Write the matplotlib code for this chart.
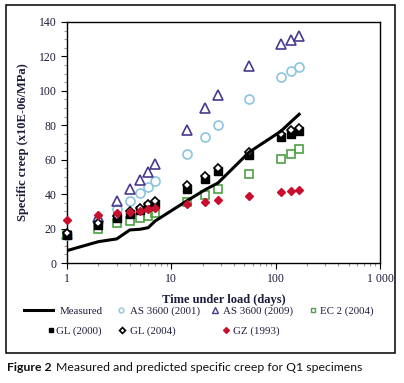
#!/usr/bin/env python3
# -*- coding: utf-8 -*-

import matplotlib
matplotlib.use('Agg')
import matplotlib.pyplot as plt
from matplotlib.patches import Rectangle
from matplotlib.lines import Line2D
from matplotlib.ticker import MultipleLocator, FixedLocator, FixedFormatter

# время под нагрузкой (сутки)
days = [1, 2, 3, 4, 5, 6, 7, 14, 21, 28, 56, 112, 140, 168]

measured = [7.2, 12.4, 14.0, 19.2, 19.6, 20.5, 24.4, 36.0, 42.5, 46.5, 64.5, 76.5, 82.0, 86.4]
as2001 = [16.5, 24.5, 31.2, 36.2, 40.5, 44.2, 47.5, 63.2, 73.3, 80.0, 95.3, 108.0, 111.8, 114.0]
as2009 = [17.0, 26.5, 36.0, 43.0, 48.0, 53.0, 57.7, 77.5, 90.0, 97.7, 114.5, 127.0, 129.6, 132.0]
ec2 = [16.0, 19.6, 23.0, 24.2, 26.0, 27.5, 28.9, 35.5, 39.3, 42.8, 51.6, 60.6, 63.5, 66.0]
gl2000 = [16.5, 22.0, 26.0, 28.5, 31.0, 33.0, 34.3, 43.0, 48.8, 53.7, 62.8, 73.0, 74.8, 76.7]
gl2004 = [17.5, 23.4, 27.2, 30.0, 32.2, 34.5, 36.0, 45.3, 50.5, 55.0, 64.5, 75.0, 77.0, 78.5]
gz1993 = [25.0, 27.9, 28.9, 29.8, 30.4, 31.2, 31.8, 34.1, 35.5, 36.6, 39.0, 41.3, 42.0, 42.6]

x_ticks = [1, 10, 100, 1000]
x_tick_labels = ['1', '10', '100', '1 000']

W, H = 404, 383
SERIF = 'Liberation Serif'
LEG_FS = 7.8
TXT = '#1c1c3c'
C_AS01 = '#8cc4df'
C_AS09 = '#4a3a8e'
C_EC2 = '#4ea043'
C_GZ = '#c8102e'

fig = plt.figure(figsize=(W / 100, H / 100), dpi=100)

# рамка вокруг рисунка
fig.patches.append(Rectangle((6 / W, 1 - 352.5 / H), 389 / W, 348 / H,
                             transform=fig.transFigure, fill=False,
                             edgecolor='black', linewidth=1.1))

ax = fig.add_axes([67 / W, 1 - 263 / H, 313 / W, 241 / H])

ax.plot(days, measured, '-', color='black', linewidth=2.2, zorder=5)
ax.plot(days, as2001, 'o', mfc='none', mec=C_AS01, mew=1.2, ms=6.5, zorder=3, clip_on=False)
ax.plot(days, as2009, '^', mfc='none', mec=C_AS09, mew=1.2, ms=6.5, zorder=3, clip_on=False)
ax.plot(days, ec2, 's', mfc='none', mec=C_EC2, mew=1.2, ms=6.0, zorder=3, clip_on=False)
ax.plot(days, gl2000, 's', mfc='black', mec='black', ms=5.5, zorder=4, clip_on=False)
ax.plot(days, gl2004, 'D', mfc='white', mec='black', mew=1.2, ms=4.0, zorder=4, clip_on=False)
ax.plot(days, gz1993, 'D', mfc=C_GZ, mec=C_GZ, ms=4.5, zorder=6, clip_on=False)

ax.set_xscale('log')
ax.set_xlim(1, 1000)
ax.set_ylim(0, 140)
ax.xaxis.set_major_locator(FixedLocator(x_ticks))
ax.xaxis.set_major_formatter(FixedFormatter(x_tick_labels))
ax.yaxis.set_major_locator(MultipleLocator(20))
ax.yaxis.set_minor_locator(MultipleLocator(5))
ax.tick_params(which='both', direction='out', colors='black', labelcolor=TXT,
               labelsize=8.5, width=0.8)
ax.tick_params(which='major', length=4)
ax.tick_params(which='minor', length=2.5, color='#999999')
for lab in ax.get_xticklabels() + ax.get_yticklabels():
    lab.set_family(SERIF)
for sp in ax.spines.values():
    sp.set_linewidth(1.0)

ax.set_xlabel('Time under load (days)', family=SERIF, fontsize=9,
              fontweight='bold', color=TXT, labelpad=6)
ax.set_ylabel('Specific creep (x10E-06/MPa)', family=SERIF, fontsize=9,
              fontweight='bold', color=TXT, labelpad=7)


def add_entry(handle, label, x_mark, x_text, y, hlen_px=8):
    '''  Один элемент легенды: маркер в x_mark, текст с x_text (пиксели)
    '''
    px = LEG_FS * 100 / 72
    left = x_mark - hlen_px / 2
    pad = (x_text - (left + hlen_px)) / px
    fig.legend([handle], [label], loc='center left',
               bbox_to_anchor=(left / W, 1 - y / H), frameon=False,
               borderpad=0, borderaxespad=0, handlelength=hlen_px / px,
               handletextpad=pad, prop={'family': SERIF, 'size': LEG_FS},
               labelcolor=TXT)


# легенда в две строки
add_entry(Line2D([], [], color='black', lw=2.2), 'Measured', 38.5, 60, 311, hlen_px=29)
add_entry(Line2D([], [], ls='none', marker='o', mfc='none', mec=C_AS01, mew=1.0, ms=3.5),
          'AS 3600 (2001)', 121, 130, 311)
add_entry(Line2D([], [], ls='none', marker='^', mfc='none', mec=C_AS09, mew=1.0, ms=4),
          'AS 3600 (2009)', 215, 223, 311)
add_entry(Line2D([], [], ls='none', marker='s', mfc='none', mec=C_EC2, mew=1.0, ms=3.5),
          'EC 2 (2004)', 313, 320, 311)
add_entry(Line2D([], [], ls='none', marker='s', mfc='black', mec='black', ms=3.5),
          'GL (2000)', 51, 56, 331)
add_entry(Line2D([], [], ls='none', marker='D', mfc='white', mec='black', mew=1.2, ms=3),
          'GL (2004)', 122, 130, 331)
add_entry(Line2D([], [], ls='none', marker='D', mfc=C_GZ, mec=C_GZ, ms=3),
          'GZ (1993)', 226, 233, 331)

# подпись рисунка
cap_y = 1 - 367.5 / H
t = fig.text(7 / W, cap_y, 'Figure 2', family='Lato', fontweight='bold',
             fontsize=8.8, va='center', ha='left', color='#111111')
fig.canvas.draw()
bb = t.get_window_extent()
fig.text((bb.x1 + 4) / W, cap_y,
         'Measured and predicted specific creep for Q1 specimens',
         family='Lato', fontsize=8.8, va='center', ha='left', color='#111111')

fig.savefig('out.png', dpi=100)
